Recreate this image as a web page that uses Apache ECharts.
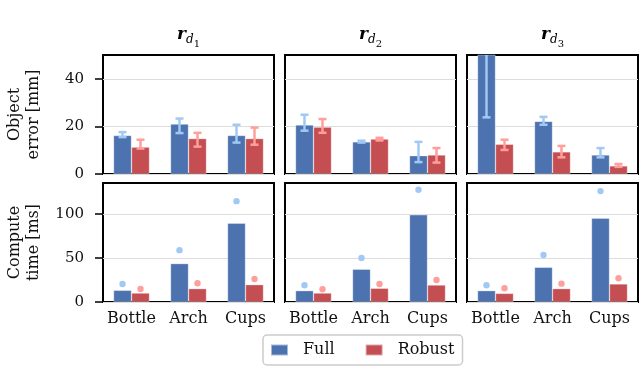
<!DOCTYPE html>
<html>
<head>
<meta charset="utf-8">
<script src="https://cdn.jsdelivr.net/npm/echarts@6/dist/echarts.min.js"></script>
<style>
  html, body { margin: 0; padding: 0; background: #fff; }
  #chart { width: 640px; height: 391px; }
</style>
</head>
<body>
<div id="chart"></div>
<script>
// categories and panel subscripts
const categories = ['Bottle', 'Arch', 'Cups'];
const panelSubs = ['1', '2', '3'];
const errorTicks = [0, 20, 40];
const timeTicks = [0, 50, 100];

// object error [mm], one row per panel (r_d1, r_d2, r_d3)
const errorFull = [[16.2, 21.0, 16.2], [20.6, 13.5, 7.7], [70, 22.1, 8.0]];
const errorFullLow = [[15.5, 17.2, 13.2], [18.2, 13.2, 5.0], [23.8, 20.7, 7.0]];
const errorFullHigh = [[17.6, 23.3, 20.7], [24.9, 14.0, 13.5], [120, 24.0, 10.9]];
const errorRobust = [[11.3, 14.9, 14.9], [19.7, 14.7, 8.0], [12.5, 9.3, 3.4]];
const errorRobustLow = [[10.7, 11.5, 12.3], [17.3, 14.1, 4.8], [10.1, 7.0, 3.0]];
const errorRobustHigh = [[14.4, 17.3, 19.5], [23.1, 15.2, 10.9], [14.4, 11.8, 4.2]];

// compute time [ms]: mean bars and max dots
const timeFull = [[13.3, 43.6, 89.4], [12.9, 37.2, 98.9], [12.9, 39.4, 95.1]];
const timeFullMax = [[20.5, 58.8, 114.4], [19.0, 50.0, 127.3], [19.0, 53.4, 125.8]];
const timeRobust = [[10.2, 15.2, 19.7], [10.2, 15.6, 19.3], [9.8, 15.2, 20.5]];
const timeRobustMax = [[14.8, 21.2, 26.1], [14.4, 20.5, 25.0], [15.6, 20.8, 26.9]];

const FULL = '#4c72b0';
const ROBUST = '#c44e52';
const FULL_LIGHT = '#a1c9f4';
const ROBUST_LIGHT = '#ff9f9b';
const FONT = 'DejaVu Serif';
const BAR_W = 18;

const colLeft = [103, 285, 467];
const rowTop = [55, 183];
const cellW = 171;
const cellH = 119;

const grids = [], xAxes = [], yAxes = [], series = [];

function errorBar(color, offset) {
  return function (params, api) {
    const c = api.coord([api.value(0), api.value(1)]);
    const h = api.coord([api.value(0), api.value(2)]);
    const x = c[0] + offset;
    const top = params.coordSys.y;
    let yHi = h[1];
    const clipped = yHi < top;
    if (clipped) yHi = top;
    const style = { stroke: color, lineWidth: 2.5 };
    const kids = [
      { type: 'line', shape: { x1: x, y1: c[1], x2: x, y2: yHi }, style },
      { type: 'line', shape: { x1: x - 4, y1: c[1], x2: x + 4, y2: c[1] }, style }
    ];
    if (!clipped) kids.push({ type: 'line', shape: { x1: x - 4, y1: yHi, x2: x + 4, y2: yHi }, style });
    return { type: 'group', children: kids };
  };
}

function dot(color, offset) {
  return function (params, api) {
    const p = api.coord([api.value(0), api.value(1)]);
    return { type: 'circle', shape: { cx: p[0] + offset, cy: p[1], r: 3.2 }, style: { fill: color } };
  };
}

for (let row = 0; row < 2; row++) {
  for (let col = 0; col < 3; col++) {
    const k = row * 3 + col;
    grids.push({
      left: colLeft[col], top: rowTop[row], width: cellW, height: cellH,
      show: true, borderColor: '#000', borderWidth: 2, backgroundColor: 'transparent'
    });
    xAxes.push({
      type: 'category', gridIndex: k, data: categories,
      axisLine: { show: false }, axisTick: { show: false },
      axisLabel: { show: row === 1, interval: 0, hideOverlap: false, fontFamily: FONT, fontSize: 16, color: '#111', margin: 9 }
    });
    const ticks = row === 0 ? errorTicks : timeTicks;
    yAxes.push({
      type: 'value', gridIndex: k,
      min: 0, max: row === 0 ? 50 : 135, interval: row === 0 ? 20 : 50,
      name: col === 0 ? (row === 0 ? 'Object\nerror [mm]' : 'Compute\ntime [ms]') : '',
      nameLocation: 'middle', nameGap: 60, nameRotate: 90,
      nameTextStyle: { fontFamily: FONT, fontSize: 16, color: '#111', lineHeight: 19 },
      axisLine: { show: false },
      axisTick: { show: col === 0, length: 8, lineStyle: { color: '#000', width: 1.5 }, customValues: ticks },
      axisLabel: { show: col === 0, fontFamily: FONT, fontSize: 15, color: '#111', margin: 19, customValues: ticks },
      splitLine: { show: true, lineStyle: { color: '#dddddd', width: 1 } }
    });
    const fullVals = row === 0 ? errorFull[col] : timeFull[col];
    const robVals = row === 0 ? errorRobust[col] : timeRobust[col];
    series.push({
      name: 'Full', type: 'bar', xAxisIndex: k, yAxisIndex: k, data: fullVals,
      barWidth: BAR_W, barGap: '0%', itemStyle: { color: FULL, borderColor: 'rgba(255,255,255,0.5)', borderWidth: 0.6 }, z: 2
    });
    series.push({
      name: 'Robust', type: 'bar', xAxisIndex: k, yAxisIndex: k, data: robVals,
      barWidth: BAR_W, barGap: '0%', itemStyle: { color: ROBUST, borderColor: 'rgba(255,255,255,0.5)', borderWidth: 0.6 }, z: 2
    });
    if (row === 0) {
      series.push({
        type: 'custom', xAxisIndex: k, yAxisIndex: k, z: 5,
        data: categories.map((c, i) => [i, errorFullLow[col][i], errorFullHigh[col][i]]),
        encode: { x: 0, y: [1, 2] }, renderItem: errorBar(FULL_LIGHT, -BAR_W / 2)
      });
      series.push({
        type: 'custom', xAxisIndex: k, yAxisIndex: k, z: 5,
        data: categories.map((c, i) => [i, errorRobustLow[col][i], errorRobustHigh[col][i]]),
        encode: { x: 0, y: [1, 2] }, renderItem: errorBar(ROBUST_LIGHT, BAR_W / 2)
      });
    } else {
      series.push({
        type: 'custom', xAxisIndex: k, yAxisIndex: k, z: 5,
        data: categories.map((c, i) => [i, timeFullMax[col][i]]),
        encode: { x: 0, y: 1 }, renderItem: dot(FULL_LIGHT, -BAR_W / 2)
      });
      series.push({
        type: 'custom', xAxisIndex: k, yAxisIndex: k, z: 5,
        data: categories.map((c, i) => [i, timeRobustMax[col][i]]),
        encode: { x: 0, y: 1 }, renderItem: dot(ROBUST_LIGHT, BAR_W / 2)
      });
    }
  }
}

const titleRich = {
  r: { fontFamily: FONT, fontStyle: 'italic', fontWeight: 'bold', fontSize: 17, lineHeight: 30, verticalAlign: 'middle', color: '#000' },
  d: { fontFamily: FONT, fontStyle: 'italic', fontSize: 12, lineHeight: 12, padding: [0, 0, 4, 0], verticalAlign: 'bottom', color: '#000' },
  n: { fontFamily: FONT, fontSize: 10, lineHeight: 10, padding: [0, 0, 1, 0], verticalAlign: 'bottom', color: '#000' }
};

const chart = echarts.init(document.getElementById('chart'), null, { renderer: 'canvas' });
chart.setOption({
  animation: false,
  backgroundColor: '#fff',
  grid: grids,
  xAxis: xAxes,
  yAxis: yAxes,
  series: series,
  legend: {
    data: ['Full', 'Robust'],
    left: 263, top: 335,
    icon: 'rect', itemWidth: 17, itemHeight: 11, itemGap: 30,
    padding: [7, 8, 7, 7], borderColor: '#cccccc', borderWidth: 1.5, borderRadius: 4,
    textStyle: { fontFamily: FONT, fontSize: 16, color: '#111', padding: [0, 0, 0, 10] }
  },
  graphic: panelSubs.map((s, i) => ({
    type: 'text', x: colLeft[i] + cellW / 2, y: 35,
    style: { text: '{r|r}{d|d}{n|' + s + '}', rich: titleRich, align: 'center', verticalAlign: 'middle' }
  }))
});
</script>
</body>
</html>
